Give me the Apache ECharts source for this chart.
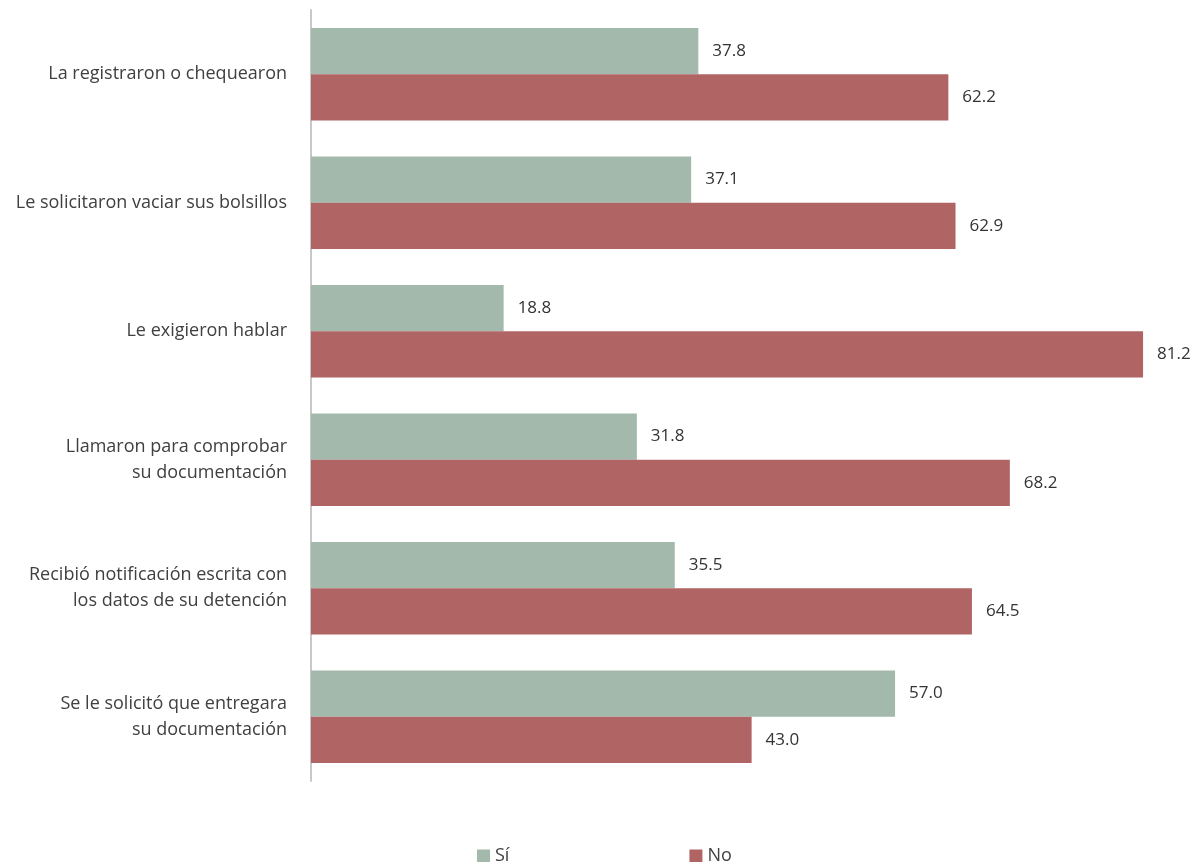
<!DOCTYPE html>
<html>
<head>
<meta charset="utf-8">
<script src="https://cdn.jsdelivr.net/npm/echarts@6/dist/echarts.min.js"></script>
<style>html,body{margin:0;padding:0;background:#fff}#c{width:1197px;height:862px}</style>
</head>
<body>
<div id="c"></div>
<script>
const categories = [
  "La registraron o chequearon",
  "Le solicitaron vaciar sus bolsillos",
  "Le exigieron hablar",
  "Llamaron para comprobar\nsu documentación",
  "Recibió notificación escrita con\nlos datos de su detención",
  "Se le solicitó que entregara\nsu documentación"
];
const siValues = [37.8, 37.1, 18.8, 31.8, 35.5, 57.0];
const noValues = [62.2, 62.9, 81.2, 68.2, 64.5, 43.0];
const seriesNames = ["Sí", "No"];

const FONT = "Open Sans";
const chart = echarts.init(document.getElementById('c'));
const labelCfg = {
  show: true, position: 'right', distance: 14,
  color: '#333', fontFamily: FONT, fontSize: 17,
  formatter: p => p.value.toFixed(1)
};
chart.setOption({
  animation: false,
  textStyle: { fontFamily: FONT },
  grid: { left: 311, right: 15, top: 10, bottom: 81, containLabel: false },
  legend: {
    top: 842, left: 472, itemGap: 180, itemWidth: 13, itemHeight: 13,
    icon: 'rect',
    textStyle: { fontFamily: FONT, fontSize: 18, color: '#404040' },
    data: seriesNames
  },
  xAxis: { type: 'value', min: 0, max: 85, show: false },
  yAxis: {
    type: 'category', inverse: true, data: categories,
    axisLine: { show: true, lineStyle: { color: '#c8c8c8', width: 2 } },
    axisTick: { show: false },
    axisLabel: { fontFamily: FONT, fontSize: 18, color: '#404040', margin: 24, lineHeight: 26, align: 'right' }
  },
  series: [
    { name: seriesNames[0], type: 'bar', data: siValues, barGap: '0%', barCategoryGap: '28%',
      itemStyle: { color: '#a3b9ab' }, label: labelCfg },
    { name: seriesNames[1], type: 'bar', data: noValues, barGap: '0%', barCategoryGap: '28%',
      itemStyle: { color: '#b06564' }, label: labelCfg }
  ]
});
</script>
</body>
</html>
